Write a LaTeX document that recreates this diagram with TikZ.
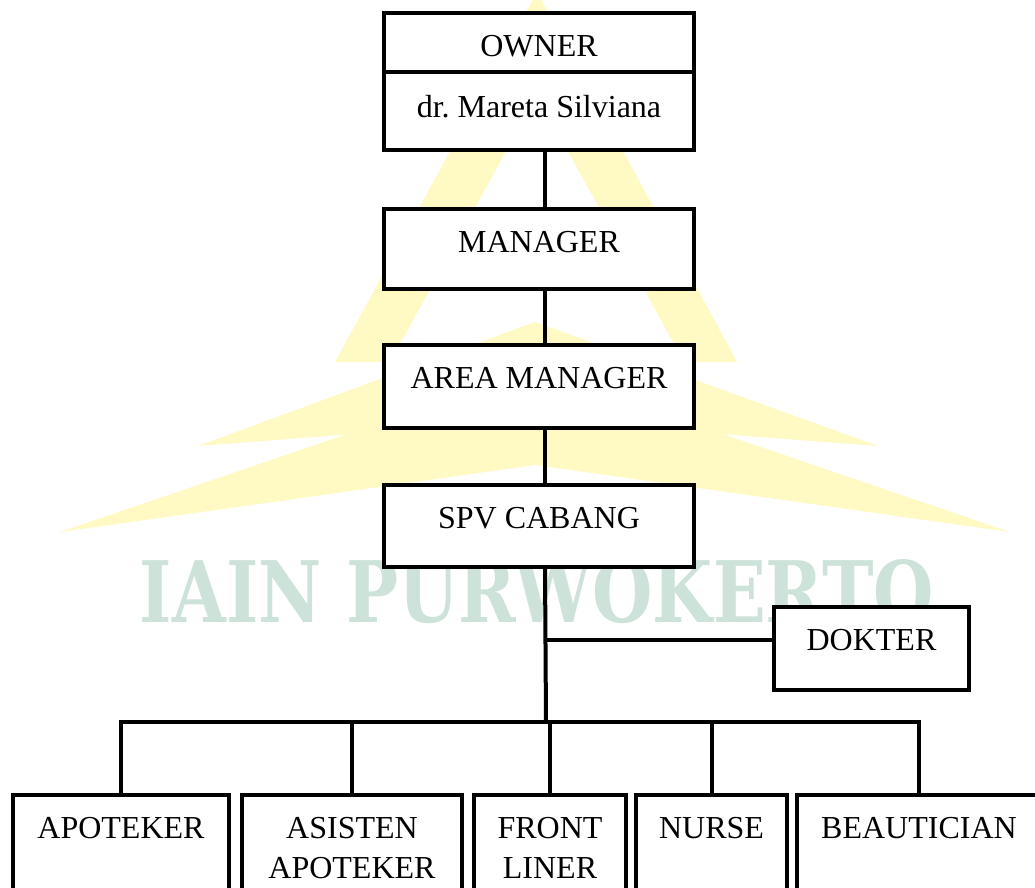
\documentclass[tikz,border=0pt]{standalone}
\usepackage{fontspec}
\setmainfont{Liberation Serif}
\newfontfamily\markfont{DejaVu Serif}
\usetikzlibrary{positioning}

\definecolor{markyellow}{RGB}{255,249,196}
\definecolor{markteal}{RGB}{205,226,216}
\newcommand\rankfont{\fontsize{16}{20}\selectfont}

\tikzset{
  post/.style={draw, fill=white, line width=2.4pt, outer sep=0pt, inner sep=0pt,
    minimum width=155pt, font=\rankfont},
  title/.style={anchor=north, inner sep=0pt, yshift=-11pt, align=center, font=\rankfont},
  link/.style={line width=2pt},
}

\begin{document}
\begin{tikzpicture}[x=0.5pt, y=-0.5pt]
\useasboundingbox (0,0) rectangle (1035,888);

% watermark behind the chart
\fill[markyellow, even odd rule] (537,-8) -- (335,362) -- (737,362) -- cycle
  (537,95) -- (390,362) -- (684,362) -- cycle;
\fill[markyellow] (198,446) -- (535,322) -- (878,446) -- (535,420) -- cycle;
\fill[markyellow] (60,532) -- (535,370) -- (1010,532) -- (535,465) -- cycle;
\node[text=markteal, inner sep=0pt] (mark) at (537,592)
  {\resizebox{397pt}{31.5pt}{\markfont\bfseries IAIN PURWOKERTO}};

% top chain
\node[post, minimum height=29.5pt, label={[title]north:OWNER}] (own) at (539,42.5) {};
\node[post, minimum height=39pt, below=0pt of own,
  label={[title, yshift=-0.5pt]north:dr.\ Mareta Silviana}] (ownname) {};
\node[post, minimum height=40pt, below=29.5pt of ownname,
  label={[title]north:MANAGER}] (mgr) {};
\node[post, minimum height=41.5pt, below=28pt of mgr,
  label={[title]north:AREA MANAGER}] (area) {};
\node[post, minimum height=41pt, below=28.5pt of area,
  label={[title]north:SPV CABANG}] (spv) {};

% side post
\node[post, minimum width=97.5pt, minimum height=41.5pt,
  label={[title]north:DOKTER}] (dok) at (871.5,648.5) {};

% staff row
\node[post, minimum width=108pt, minimum height=75pt, anchor=north,
  label={[title]north:APOTEKER}] (apt) at (121,795) {};
\node[post, minimum width=110pt, minimum height=75pt, anchor=north,
  label={[title]north:ASISTEN\\APOTEKER}] (asis) at (352,795) {};
\node[post, minimum width=76pt, minimum height=75pt, anchor=north,
  label={[title]north:FRONT\\LINER}] (front) at (550,795) {};
\node[post, minimum width=75.5pt, minimum height=75pt, anchor=north,
  label={[title]north:NURSE}] (nurse) at (711.5,795) {};
\node[post, minimum width=122pt, minimum height=75pt, anchor=north,
  label={[title]north:BEAUTICIAN}] (beau) at (919,795) {};

% connectors
\coordinate (dokjoin) at (546,640);
\coordinate (bus) at (546,722);
\draw[link] ([xshift=3pt]ownname.south) -- ([xshift=3pt]mgr.north);
\draw[link] ([xshift=3pt]mgr.south) -- ([xshift=3pt]area.north);
\draw[link] ([xshift=3pt]area.south) -- ([xshift=3pt]spv.north);
\draw[link] ([xshift=3pt]spv.south) -- (bus);
\draw[link] (dokjoin) -- (dokjoin -| dok.west);
\foreach \n in {apt,asis,front,nurse,beau}
  \draw[link] (bus) -| (\n.north);
\end{tikzpicture}
\end{document}
